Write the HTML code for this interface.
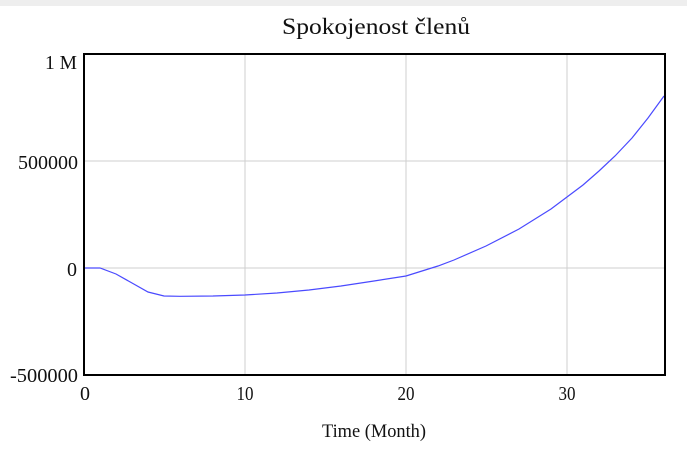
<!DOCTYPE html>
<html><head><style>
body{margin:0;background:#fff;}
svg text{font-family:"Liberation Serif",serif;fill:#111;}
</style></head><body>
<svg width="687" height="448" xmlns="http://www.w3.org/2000/svg">
<rect x="0" y="0" width="687" height="6" fill="#eeeeee"/>
<text x="282" y="34" font-size="23" textLength="188" lengthAdjust="spacingAndGlyphs">Spokojenost členů</text>
<g stroke="#cfcfcf" stroke-width="1">
<line x1="245" y1="54" x2="245" y2="375"/>
<line x1="406" y1="54" x2="406" y2="375"/>
<line x1="567" y1="54" x2="567" y2="375"/>
<line x1="84" y1="161" x2="665" y2="161"/>
<line x1="84" y1="268" x2="665" y2="268"/>
</g>
<polyline fill="none" stroke="#4a4aff" stroke-width="1.2" points="84,268 100,268 116,274 132,283 148,292 164,296 180,296.3 213,296 245,295 277,293 309,290 341,286 374,281 406,276 422,271 438,266 454,260 486,246 519,229 551,209 567,197 583,185 599,171 615,156 632,138 648,118 664,96"/>
<rect x="84" y="54" width="581" height="321" fill="none" stroke="#000" stroke-width="2"/>
<g font-size="20">
<text x="45" y="69" textLength="32" lengthAdjust="spacingAndGlyphs">1 M</text>
<text x="18" y="169" textLength="60" lengthAdjust="spacingAndGlyphs">500000</text>
<text x="67" y="276">0</text>
<text x="10" y="382" textLength="68" lengthAdjust="spacingAndGlyphs">-500000</text>
</g>
<g font-size="20" text-anchor="middle">
<text x="85" y="400">0</text>
<text x="245" y="400" textLength="17" lengthAdjust="spacingAndGlyphs">10</text>
<text x="406" y="400" textLength="17" lengthAdjust="spacingAndGlyphs">20</text>
<text x="567" y="400" textLength="17" lengthAdjust="spacingAndGlyphs">30</text>
</g>
<text x="322" y="437" font-size="19" textLength="104" lengthAdjust="spacingAndGlyphs">Time (Month)</text>
</svg>
</body></html>
